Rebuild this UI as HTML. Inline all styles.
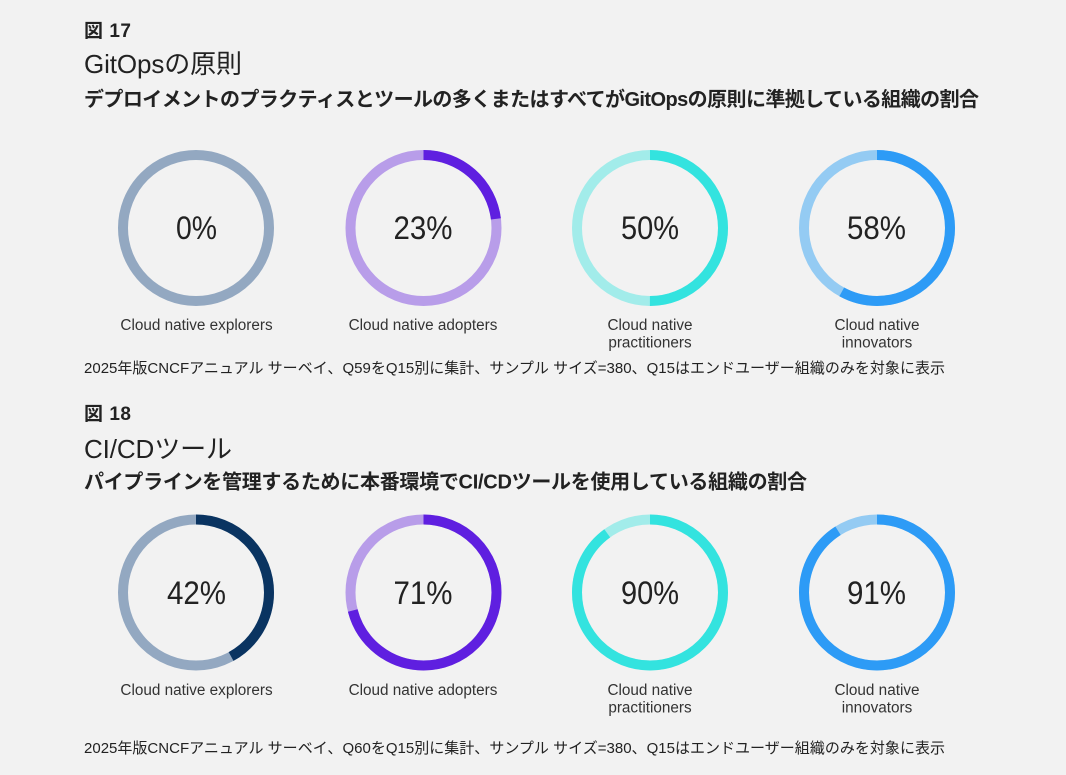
<!DOCTYPE html>
<html>
<head>
<meta charset="utf-8">
<style>
html,body{margin:0;padding:0;background:#f2f2f2;}
svg{display:block;}
text{font-family:"Liberation Sans","Noto Sans CJK JP",sans-serif;fill:#222;}
.lbl{font-size:15.3px;fill:#333;text-anchor:middle;}
.pct{font-size:32px;fill:#222;text-anchor:middle;}
</style>
</head>
<body>
<svg width="1066" height="775" viewBox="0 0 1066 775" xmlns="http://www.w3.org/2000/svg">
<rect width="1066" height="775" fill="#f2f2f2"/>

<!-- Figure 17 header -->
<text x="84" y="37" font-size="19" font-weight="bold" textLength="47" lengthAdjust="spacing">図 17</text>
<text x="84" y="73" font-size="26" textLength="158" lengthAdjust="spacing">GitOpsの原則</text>
<text x="84" y="106" font-size="20" font-weight="bold" textLength="895" lengthAdjust="spacing">デプロイメントのプラクティスとツールの多くまたはすべてがGitOpsの原則に準拠している組織の割合</text>

<!-- Row 1 donuts -->
<g fill="none" stroke-width="10">
  <circle cx="196" cy="228" r="73" stroke="#93a8c1"/>

  <circle cx="423.5" cy="228" r="73" stroke="#b89de9"/>
  <circle cx="423.5" cy="228" r="73" stroke="#5f1fe0" stroke-dasharray="105.49 458.67" transform="rotate(-90 423.5 228)"/>

  <circle cx="650" cy="228" r="73" stroke="#a2ecea"/>
  <circle cx="650" cy="228" r="73" stroke="#33e3df" stroke-dasharray="229.34 458.67" transform="rotate(-90 650 228)"/>

  <circle cx="877" cy="228" r="73" stroke="#94cbf3"/>
  <circle cx="877" cy="228" r="73" stroke="#2d9bf6" stroke-dasharray="266.03 458.67" transform="rotate(-90 877 228)"/>
</g>
<text class="pct" x="196.5" y="239" textLength="41" lengthAdjust="spacingAndGlyphs">0%</text>
<text class="pct" x="423" y="239" textLength="59" lengthAdjust="spacingAndGlyphs">23%</text>
<text class="pct" x="650" y="239" textLength="58" lengthAdjust="spacingAndGlyphs">50%</text>
<text class="pct" x="876.5" y="239" textLength="59" lengthAdjust="spacingAndGlyphs">58%</text>

<text class="lbl" x="196.5" y="330">Cloud native explorers</text>
<text class="lbl" x="423" y="330">Cloud native adopters</text>
<text class="lbl" x="650" y="330">Cloud native</text>
<text class="lbl" x="650" y="347.5">practitioners</text>
<text class="lbl" x="877" y="330">Cloud native</text>
<text class="lbl" x="877" y="347.5">innovators</text>

<text x="84" y="373" font-size="15" textLength="861" lengthAdjust="spacing">2025年版CNCFアニュアル サーベイ、Q59をQ15別に集計、サンプル サイズ=380、Q15はエンドユーザー組織のみを対象に表示</text>

<!-- Figure 18 header -->
<text x="84" y="420" font-size="19" font-weight="bold" textLength="47" lengthAdjust="spacing">図 18</text>
<text x="84" y="458" font-size="26" textLength="148" lengthAdjust="spacing">CI/CDツール</text>
<text x="84" y="488.5" font-size="20" font-weight="bold" textLength="723" lengthAdjust="spacing">パイプラインを管理するために本番環境でCI/CDツールを使用している組織の割合</text>

<!-- Row 2 donuts -->
<g fill="none" stroke-width="10">
  <circle cx="196" cy="592.5" r="73" stroke="#93a8c1"/>
  <circle cx="196" cy="592.5" r="73" stroke="#0a3461" stroke-dasharray="192.64 458.67" transform="rotate(-90 196 592.5)"/>

  <circle cx="423.5" cy="592.5" r="73" stroke="#b89de9"/>
  <circle cx="423.5" cy="592.5" r="73" stroke="#5f1fe0" stroke-dasharray="325.66 458.67" transform="rotate(-90 423.5 592.5)"/>

  <circle cx="650" cy="592.5" r="73" stroke="#a2ecea"/>
  <circle cx="650" cy="592.5" r="73" stroke="#33e3df" stroke-dasharray="412.80 458.67" transform="rotate(-90 650 592.5)"/>

  <circle cx="877" cy="592.5" r="73" stroke="#94cbf3"/>
  <circle cx="877" cy="592.5" r="73" stroke="#2d9bf6" stroke-dasharray="417.39 458.67" transform="rotate(-90 877 592.5)"/>
</g>
<text class="pct" x="196.5" y="604" textLength="59" lengthAdjust="spacingAndGlyphs">42%</text>
<text class="pct" x="423" y="604" textLength="59" lengthAdjust="spacingAndGlyphs">71%</text>
<text class="pct" x="650" y="604" textLength="58" lengthAdjust="spacingAndGlyphs">90%</text>
<text class="pct" x="876.5" y="604" textLength="59" lengthAdjust="spacingAndGlyphs">91%</text>

<text class="lbl" x="196.5" y="695">Cloud native explorers</text>
<text class="lbl" x="423" y="695">Cloud native adopters</text>
<text class="lbl" x="650" y="695">Cloud native</text>
<text class="lbl" x="650" y="712.5">practitioners</text>
<text class="lbl" x="877" y="695">Cloud native</text>
<text class="lbl" x="877" y="712.5">innovators</text>

<text x="84" y="753" font-size="15" textLength="861" lengthAdjust="spacing">2025年版CNCFアニュアル サーベイ、Q60をQ15別に集計、サンプル サイズ=380、Q15はエンドユーザー組織のみを対象に表示</text>
</svg>
</body>
</html>
